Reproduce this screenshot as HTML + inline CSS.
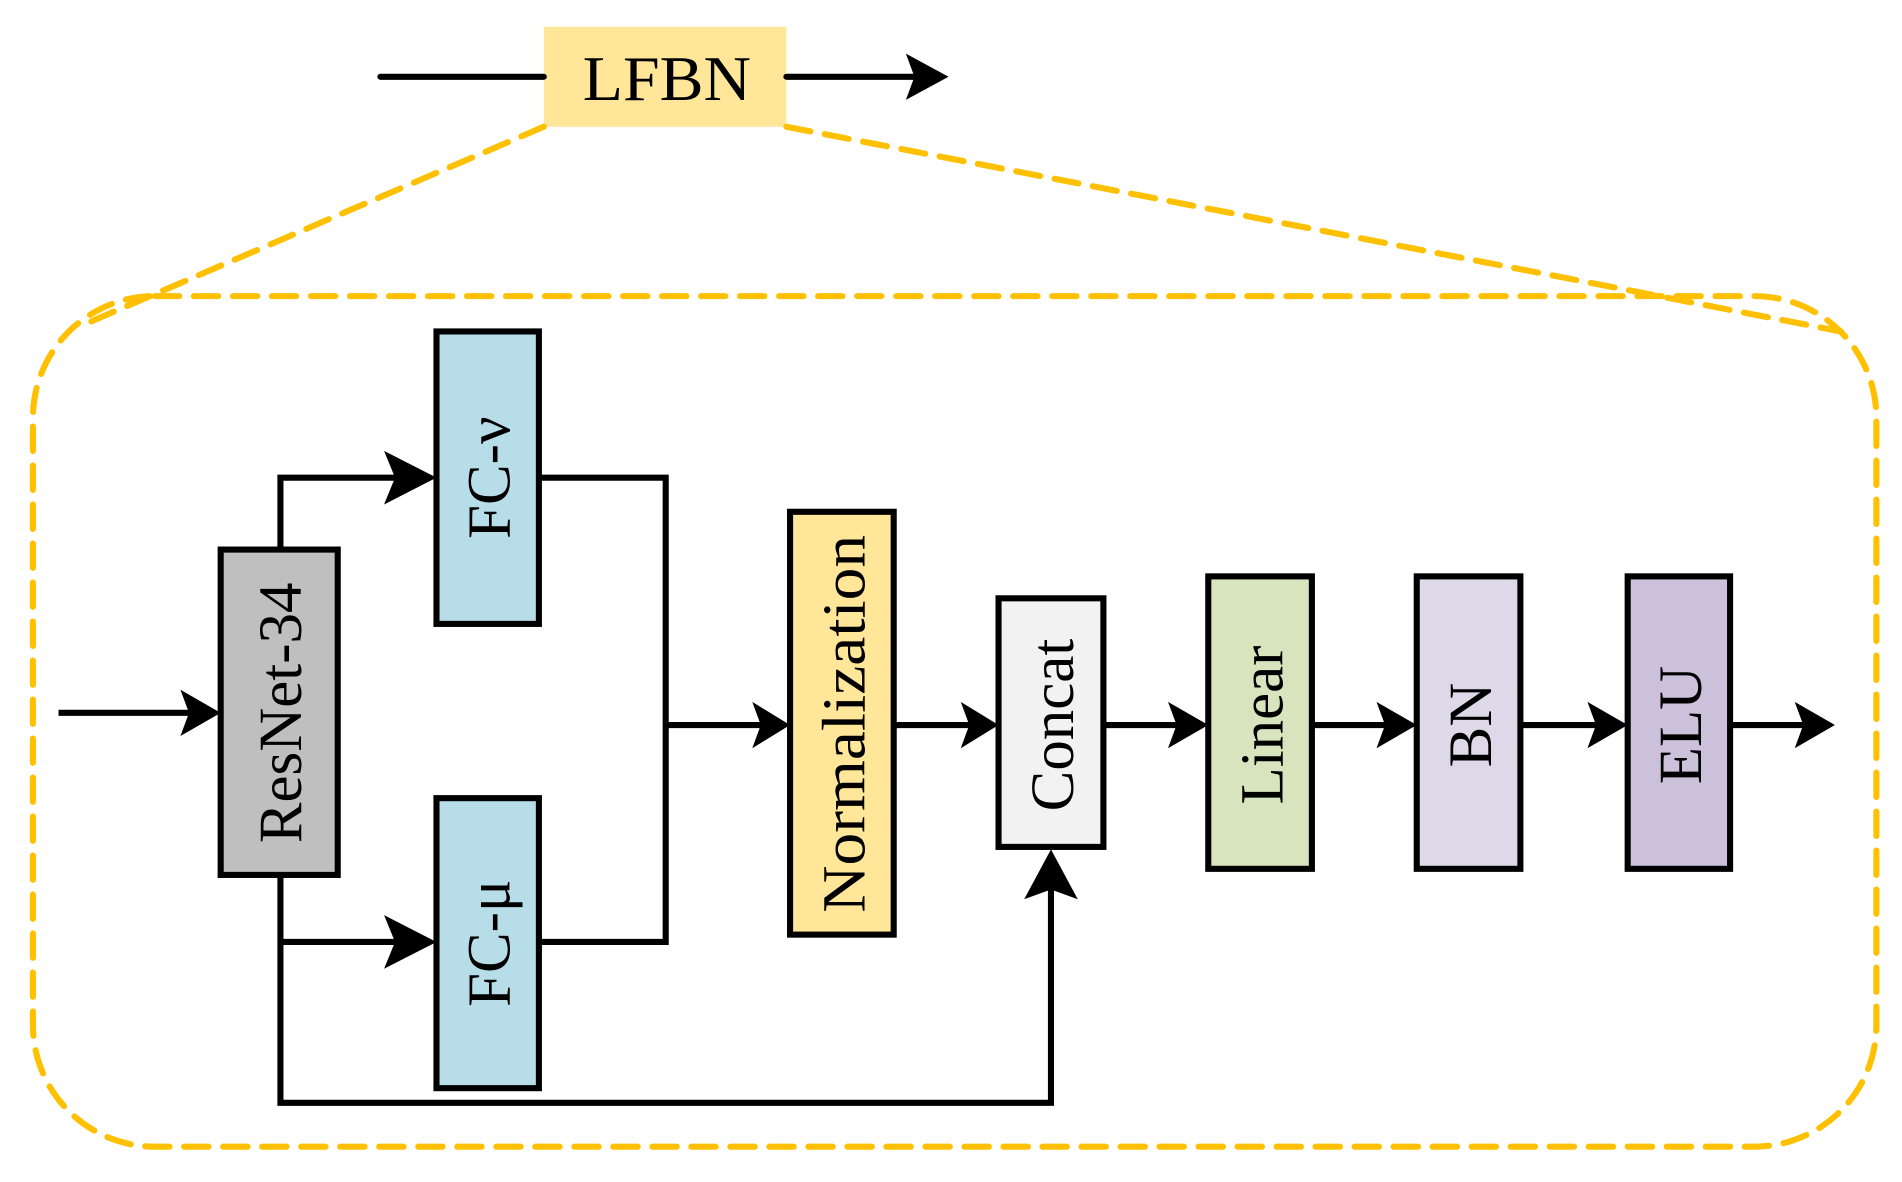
<!DOCTYPE html>
<html><head><meta charset="utf-8"><style>html,body{margin:0;padding:0;background:#fff}svg{display:block}</style></head>
<body>
<svg width="1902" height="1182" viewBox="0 0 1560 970" preserveAspectRatio="none" xmlns="http://www.w3.org/2000/svg" font-family="Liberation Serif, serif">
<defs>
<marker id="a" viewBox="0 0 10 10" refX="10" refY="5" markerWidth="7" markerHeight="7" markerUnits="userSpaceOnUse" orient="auto"></marker>
</defs>
<!-- top -->
<rect x="446" y="22" width="199" height="82" fill="#FFE699"/>
<text x="547" y="82" font-size="52" text-anchor="middle" textLength="138" lengthAdjust="spacingAndGlyphs">LFBN</text>
<g stroke="#000" stroke-width="5" stroke-linecap="round" fill="none">
<line x1="312" y1="63" x2="446" y2="63"/>
<line x1="645" y1="63" x2="750" y2="63"/>
</g>
<polygon points="743,44 778,63 743,82 750,63" fill="#000"/>
<!-- dashed -->
<g stroke="#FFC000" stroke-width="5" fill="none" stroke-dasharray="20 12" stroke-linecap="round">
<line x1="446" y1="104" x2="65" y2="268"/>
<line x1="645" y1="104" x2="1510" y2="272"/>
<rect x="27" y="243" width="1512" height="698" rx="100" ry="100"/>
</g>
<!-- connectors -->
<g stroke="#000" stroke-width="5" fill="none">
<line x1="48" y1="585" x2="160" y2="585"/>
<polyline points="230,451 230,392 330,392"/>
<polyline points="230,718 230,905 862,905 862,725"/>
<line x1="230" y1="773" x2="330" y2="773"/>
<polyline points="442,392 546,392 546,773 442,773"/>
<line x1="546" y1="595" x2="625" y2="595"/>
<line x1="733" y1="595" x2="796" y2="595"/>
<line x1="905" y1="595" x2="968" y2="595"/>
<line x1="1076" y1="595" x2="1140" y2="595"/>
<line x1="1247" y1="595" x2="1312" y2="595"/>
<line x1="1419" y1="595" x2="1480" y2="595"/>
</g>
<g fill="#000">
<polygon points="148,566 181,585 148,604 155,585"/>
<polygon points="315,370 358,392 315,414 324,392"/>
<polygon points="315,751 358,773 315,795 324,773"/>
<polygon points="617,576 648,595 617,614 624,595"/>
<polygon points="788,576 819,595 788,614 795,595"/>
<polygon points="958,576 991,595 958,614 965,595"/>
<polygon points="1129,576 1162,595 1129,614 1136,595"/>
<polygon points="1302,576 1335,595 1302,614 1309,595"/>
<polygon points="1472,576 1505,595 1472,614 1479,595"/>
<polygon points="840,738 862,697 884,738 862,730"/>
</g>
<!-- boxes -->
<g stroke="#000" stroke-width="5">
<rect x="181" y="451" width="96" height="267" fill="#BFBFBF"/>
<rect x="358" y="272" width="84" height="240" fill="#B7DEE8"/>
<rect x="358" y="655" width="84" height="238" fill="#B7DEE8"/>
<rect x="648" y="420" width="85" height="347" fill="#FFE699"/>
<rect x="819" y="491" width="86" height="204" fill="#F2F2F2"/>
<rect x="991" y="473" width="85" height="240" fill="#D7E4BD"/>
<rect x="1162" y="473" width="85" height="240" fill="#DDD9E8"/>
<rect x="1335" y="473" width="84" height="240" fill="#CCC1DA"/>
</g>
<g font-size="50" text-anchor="middle">
<text transform="translate(247,585) rotate(-90)">ResNet-34</text>
<text transform="translate(418,392) rotate(-90)">FC-ν</text>
<text transform="translate(418,774) rotate(-90)">FC-μ</text>
<text transform="translate(709,594) rotate(-90)" textLength="310" lengthAdjust="spacingAndGlyphs">Normalization</text>
<text transform="translate(880,595) rotate(-90)">Concat</text>
<text transform="translate(1052,595) rotate(-90)">Linear</text>
<text transform="translate(1223,595) rotate(-90)">BN</text>
<text transform="translate(1395,595) rotate(-90)">ELU</text>
</g>
</svg>
</body></html>
